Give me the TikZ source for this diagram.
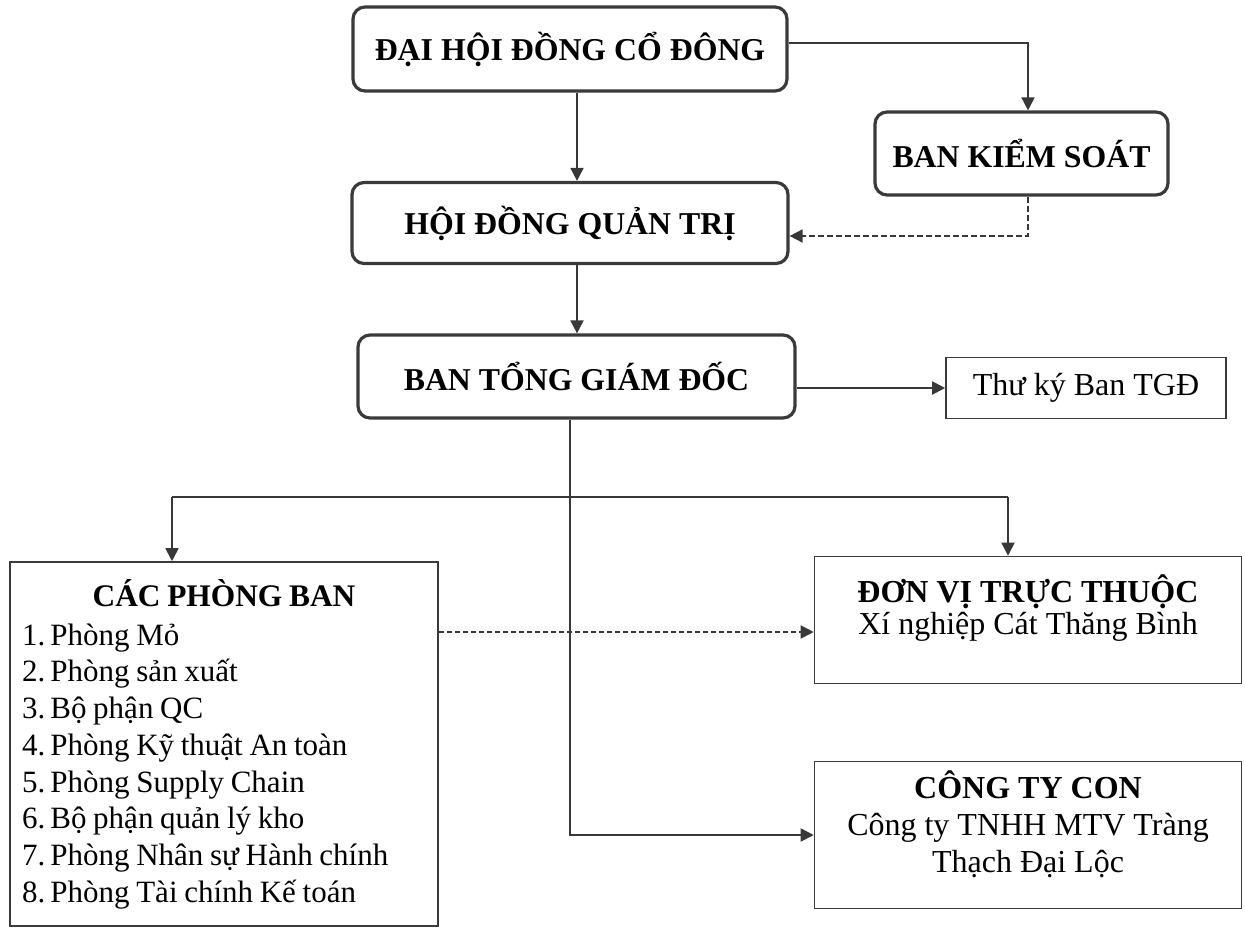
\documentclass[tikz,border=0pt]{standalone}
\usepackage{fontspec}
\setmainfont{Liberation Serif}
\usetikzlibrary{arrows.meta}
\definecolor{ink}{HTML}{383838}
\definecolor{boxline}{HTML}{3A3A3A}
\begin{document}
\begin{tikzpicture}[x=0.5pt,y=-0.5pt,
  rbox/.style={draw=boxline,line width=1.6pt,rounded corners=6pt,fill=white,
    inner sep=0pt,font=\fontsize{15.9}{18}\selectfont\bfseries},
  sqbox/.style={draw=boxline,line width=0.8pt,fill=white,inner sep=0pt},
  conn/.style={draw=ink,line width=0.9pt},
  arr/.style={conn,-{Triangle[length=6.5pt,width=6.5pt]}},
  darr/.style={arr,dash pattern=on 3pt off 1.5pt}]
\useasboundingbox (0,0) rectangle (1245,927);
% boxes
\node[rbox,minimum width=434pt*0.5,minimum height=84pt*0.5] (dhd) at (570,49) {ĐẠI HỘI ĐỒNG CỔ ĐÔNG};
\node[rbox,minimum width=293pt*0.5,minimum height=83pt*0.5] (bks) at (1021.5,153.5) {BAN KIỂM SOÁT};
\node[rbox,minimum width=436pt*0.5,minimum height=81pt*0.5] (hdqt) at (570,223) {HỘI ĐỒNG QUẢN TRỊ};
\node[rbox,minimum width=437pt*0.5,minimum height=83pt*0.5] (btgd) at (576.5,376.5) {BAN TỔNG GIÁM ĐỐC};
\node[sqbox,minimum width=280pt*0.5,minimum height=61pt*0.5,font=\fontsize{16}{18}\selectfont] (tk) at (1086,388) {Thư ký Ban TGĐ};
\node[sqbox,minimum width=428pt*0.5,minimum height=364pt*0.5,text width=202pt,align=left,inner xsep=6pt] (cpb) at (224,744)
 {\lineskiplimit=-20pt{\centering\fontsize{15.7}{18}\selectfont\bfseries CÁC PHÒNG BAN\par}\vspace{1.2pt}%
  \fontsize{15.5}{18.35}\selectfont
  1.\,Phòng Mỏ\\
  2.\,Phòng sản xuất\\
  3.\,Bộ phận QC\\
  4.\,Phòng Kỹ thuật An toàn\\
  5.\,Phòng Supply Chain\\
  6.\,Bộ phận quản lý kho\\
  7.\,Phòng Nhân sự Hành chính\\
  8.\,Phòng Tài chính Kế toán\par\vspace{4pt}};
\node[sqbox,minimum width=427pt*0.5,minimum height=127pt*0.5] (dvtt) at (1028,620)
 {\parbox[c][63.5pt][t]{213pt}{\centering\fontsize{16}{16}\selectfont
  \rule{0pt}{23pt}\textbf{ĐƠN VỊ TRỰC THUỘC}\\
  Xí nghiệp Cát Thăng Bình}};
\node[sqbox,minimum width=427pt*0.5,minimum height=147pt*0.5] (ctc) at (1028,835)
 {\parbox[c][73.5pt][t]{213pt}{\centering\fontsize{16}{18.5}\selectfont
  \rule{0pt}{18.5pt}\textbf{CÔNG TY CON}\\Công ty TNHH MTV Tràng\\Thạch Đại Lộc}};
% helper coordinates
\coordinate (k) at (1028,43);
\coordinate (d) at (1028,236);
\coordinate (v) at (577,0);
\coordinate (t) at (570,835);
\coordinate (jl) at (172,497);
\coordinate (jr) at (1008,497);
\coordinate (m) at (600,632);
% connectors
\draw[arr] (dhd.south -| v) -- (hdqt.north -| v);
\draw[arr] (dhd.east |- k) -- (k) -- (bks.north -| k);
\draw[darr] (bks.south -| d) -- (d) -- (hdqt.east |- d);
\draw[arr] (hdqt.south -| v) -- (btgd.north -| v);
\draw[arr] (btgd.east |- tk.west) -- (tk.west);
\draw[arr] (btgd.south -| t) -- (t) -- (ctc.west |- t);
\draw[conn] (jl) -- (jr);
\draw[arr] (jl) -- (cpb.north -| jl);
\draw[arr] (jr) -- (dvtt.north -| jr);
\draw[darr,dash pattern=on 2.5pt off 1.5pt] (cpb.east |- m) -- (dvtt.west |- m);
\end{tikzpicture}
\end{document}
